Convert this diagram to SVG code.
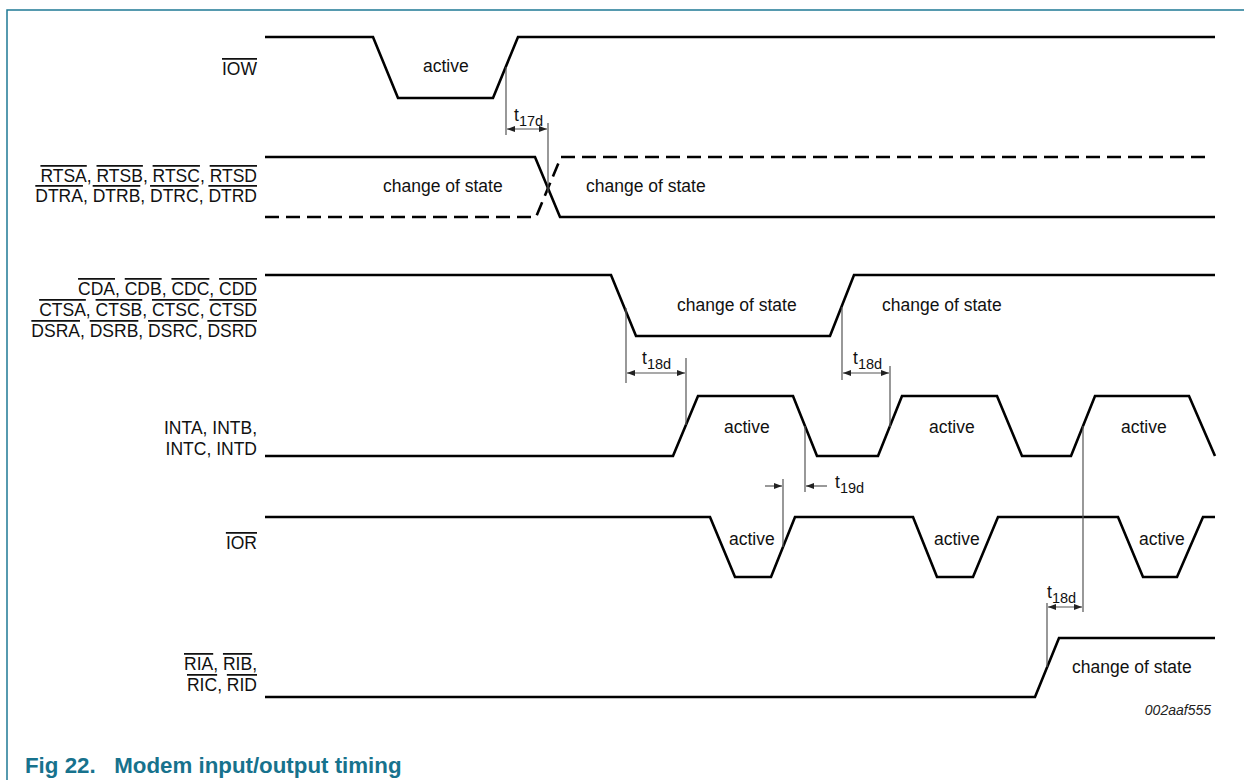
<svg xmlns="http://www.w3.org/2000/svg" width="1244" height="780" viewBox="0 0 1244 780">
<style>
.frame{fill:none;stroke:#1f7a95;stroke-width:1.5}
.w{fill:none;stroke:#000;stroke-width:2.6;stroke-linejoin:miter}
.d{fill:none;stroke:#000;stroke-width:2.6;stroke-dasharray:14 7}
.a{fill:none;stroke:#555;stroke-width:1.2}
.t{font-family:"Liberation Sans",Arial,sans-serif;font-size:17.5px;fill:#111}
.lbl{font-family:"Liberation Sans",Arial,sans-serif;font-size:17.5px;fill:#111;text-anchor:end}
.o{text-decoration:overline}
.s{font-size:14.5px}
.cap{font-family:"Liberation Sans",Arial,sans-serif;font-size:22.3px;font-weight:bold;fill:#17728d}
.code{font-family:"Liberation Sans",Arial,sans-serif;font-size:14px;font-style:italic;fill:#222;text-anchor:end}
</style>
<defs>
<marker id="ah" viewBox="0 0 8 6" refX="8" refY="3" markerWidth="8" markerHeight="6" markerUnits="userSpaceOnUse" orient="auto-start-reverse">
<path d="M0,0 L8,3 L0,6 z" fill="#222"/>
</marker>
</defs>
<rect width="1244" height="780" fill="#fff"/>
<path class="frame" d="M7,780 V10 H1244"/>

<g id="labels">
<text class="lbl" x="257" y="75"><tspan class="o">IOW</tspan></text>
<text class="lbl" x="257" y="182"><tspan class="o">RTSA</tspan>, <tspan class="o">RTSB</tspan>, <tspan class="o">RTSC</tspan>, <tspan class="o">RTSD</tspan></text>
<text class="lbl" x="257" y="202"><tspan class="o">DTRA</tspan>, <tspan class="o">DTRB</tspan>, <tspan class="o">DTRC</tspan>, <tspan class="o">DTRD</tspan></text>
<text class="lbl" x="257" y="295"><tspan class="o">CDA</tspan>, <tspan class="o">CDB</tspan>, <tspan class="o">CDC</tspan>, <tspan class="o">CDD</tspan></text>
<text class="lbl" x="257" y="316"><tspan class="o">CTSA</tspan>, <tspan class="o">CTSB</tspan>, <tspan class="o">CTSC</tspan>, <tspan class="o">CTSD</tspan></text>
<text class="lbl" x="257" y="337"><tspan class="o">DSRA</tspan>, <tspan class="o">DSRB</tspan>, <tspan class="o">DSRC</tspan>, <tspan class="o">DSRD</tspan></text>
<text class="lbl" x="257" y="434">INTA, INTB,</text>
<text class="lbl" x="257" y="455">INTC, INTD</text>
<text class="lbl" x="257" y="549"><tspan class="o">IOR</tspan></text>
<text class="lbl" x="257" y="670"><tspan class="o">RIA</tspan>, <tspan class="o">RIB</tspan>,</text>
<text class="lbl" x="257" y="691"><tspan class="o">RIC</tspan>, <tspan class="o">RID</tspan></text>
</g>

<g id="sig-iow">
<path class="w" d="M265,37 H373 L398,98 H493 L518,37 H1215"/>
<text class="t" x="423" y="72">active</text>
</g>

<g id="sig-rts">
<path class="w" d="M265,157 H535 L560,217 H1215"/>
<path class="d" d="M265,217 H536 L561,157 H1212"/>
<text class="t" x="383" y="192">change of state</text>
<text class="t" x="586" y="192">change of state</text>
</g>

<g id="sig-cd">
<path class="w" d="M265,275 H611 L636,336 H830 L854,275 H1215"/>
<text class="t" x="677" y="311">change of state</text>
<text class="t" x="882" y="311">change of state</text>
</g>

<g id="sig-int">
<path class="w" d="M265,456 H673 L698,396 H793 L817,456 H878 L902,396 H997 L1022,456 H1071 L1095,396 H1189 L1215,456"/>
<text class="t" x="724" y="433">active</text>
<text class="t" x="929" y="433">active</text>
<text class="t" x="1121" y="433">active</text>
</g>

<g id="sig-ior">
<path class="w" d="M265,517 H710 L735,577 H771 L795,517 H913 L937,577 H973 L998,517 H1118 L1143,577 H1177 L1203,517 H1215"/>
<text class="t" x="729" y="545">active</text>
<text class="t" x="934" y="545">active</text>
<text class="t" x="1139" y="545">active</text>
</g>

<g id="sig-ri">
<path class="w" d="M265,697 H1035 L1059,638 H1215"/>
<text class="t" x="1072" y="673">change of state</text>
</g>

<g id="connectors">
<path class="a" d="M506,67 V135 M548,123 V193"/>
<line class="a" x1="507" y1="129" x2="547" y2="129" marker-start="url(#ah)" marker-end="url(#ah)"/>
<text class="t" x="514" y="121">t<tspan class="s" dy="5">17d</tspan></text>

<path class="a" d="M626,308 V383 M686,358 V425"/>
<line class="a" x1="627" y1="373" x2="685" y2="373" marker-start="url(#ah)" marker-end="url(#ah)"/>
<text class="t" x="642" y="364">t<tspan class="s" dy="5">18d</tspan></text>

<path class="a" d="M842,307 V380 M890,366 V427"/>
<line class="a" x1="843" y1="373" x2="889" y2="373" marker-start="url(#ah)" marker-end="url(#ah)"/>
<text class="t" x="853" y="364">t<tspan class="s" dy="5">18d</tspan></text>

<path class="a" d="M805,426 V492 M783,479 V547"/>
<line class="a" x1="765" y1="486" x2="782" y2="486" marker-end="url(#ah)"/>
<line class="a" x1="827" y1="486" x2="806" y2="486" marker-end="url(#ah)"/>
<text class="t" x="835" y="488">t<tspan class="s" dy="5">19d</tspan></text>

<path class="a" d="M1047,603 V667 M1083,426 V612"/>
<line class="a" x1="1048" y1="607" x2="1082" y2="607" marker-start="url(#ah)" marker-end="url(#ah)"/>
<text class="t" x="1047" y="598">t<tspan class="s" dy="5">18d</tspan></text>
</g>

<text class="code" x="1211" y="715">002aaf555</text>
<text class="cap" x="25" y="773" xml:space="preserve">Fig 22.   Modem input/output timing</text>
</svg>
